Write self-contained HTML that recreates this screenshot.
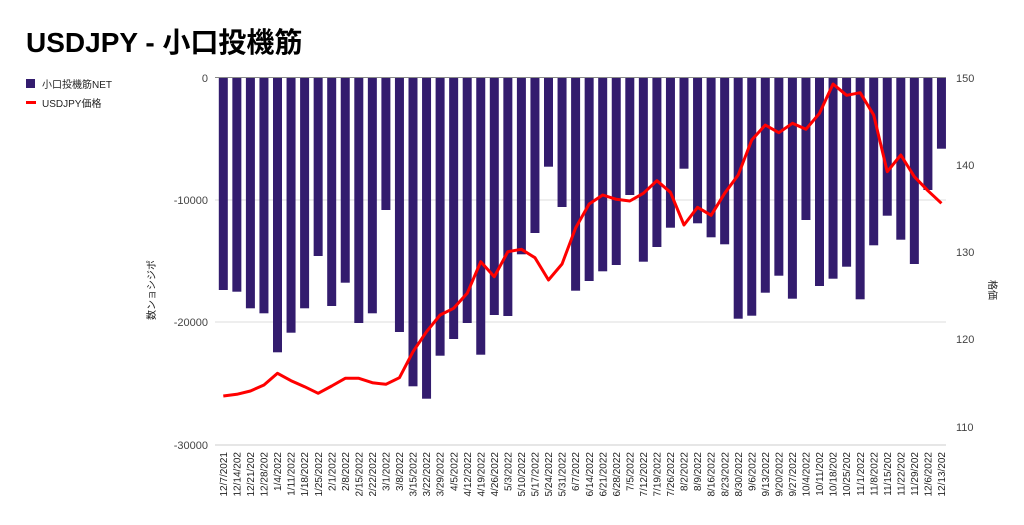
<!DOCTYPE html>
<html><head><meta charset="utf-8"><style>
html,body{margin:0;padding:0;background:#fff;}
svg{display:block;font-family:"Liberation Sans","Noto Sans CJK JP",sans-serif;}
</style></head><body>
<svg width="1024" height="525" viewBox="0 0 1024 525" xmlns="http://www.w3.org/2000/svg">
<text x="26" y="52" font-size="28" font-weight="bold" fill="#000">USDJPY - 小口投機筋</text>
<rect x="26" y="79" width="9" height="9" fill="#331c6e"/>
<text x="42" y="88" font-size="10" fill="#222">小口投機筋NET</text>
<rect x="26" y="101" width="10" height="3" fill="#ff0000"/>
<text x="42" y="107" font-size="10" fill="#222">USDJPY価格</text>
<g stroke-width="1">
<line x1="215" y1="200" x2="946" y2="200" stroke="#dddddd"/>
<line x1="215" y1="322" x2="946" y2="322" stroke="#dddddd"/>
<line x1="215" y1="445" x2="946" y2="445" stroke="#cccccc"/>
</g>
<g font-size="11" fill="#444" text-anchor="end">
<text x="208" y="82">0</text><text x="208" y="204">-10000</text><text x="208" y="326">-20000</text><text x="208" y="449">-30000</text>
</g>
<g font-size="11" fill="#444">
<text x="956" y="82">150</text><text x="956" y="169">140</text><text x="956" y="256">130</text><text x="956" y="343">120</text><text x="956" y="431">110</text>
</g>
<text transform="translate(155,290) rotate(-90)" font-size="10" fill="#222" text-anchor="middle">数ンョシジポ</text>
<text transform="translate(989,290) rotate(90)" font-size="10" fill="#222" text-anchor="middle">格価</text>
<g fill="#331c6e">
<rect x="218.8" y="78" width="9" height="212"/>
<rect x="232.35" y="78" width="9" height="213.7"/>
<rect x="245.9" y="78" width="9" height="230.3"/>
<rect x="259.45" y="78" width="9" height="235.3"/>
<rect x="273" y="78" width="9" height="274.3"/>
<rect x="286.55" y="78" width="9" height="254.7"/>
<rect x="300.1" y="78" width="9" height="230.3"/>
<rect x="313.65" y="78" width="9" height="178"/>
<rect x="327.2" y="78" width="9" height="228"/>
<rect x="340.75" y="78" width="9" height="204.7"/>
<rect x="354.3" y="78" width="9" height="245"/>
<rect x="367.85" y="78" width="9" height="235.3"/>
<rect x="381.4" y="78" width="9" height="132"/>
<rect x="394.95" y="78" width="9" height="254"/>
<rect x="408.5" y="78" width="9" height="308.3"/>
<rect x="422.05" y="78" width="9" height="320.7"/>
<rect x="435.6" y="78" width="9" height="277.7"/>
<rect x="449.15" y="78" width="9" height="261"/>
<rect x="462.7" y="78" width="9" height="245"/>
<rect x="476.25" y="78" width="9" height="276.7"/>
<rect x="489.8" y="78" width="9" height="237"/>
<rect x="503.35" y="78" width="9" height="238"/>
<rect x="516.9" y="78" width="9" height="176.3"/>
<rect x="530.45" y="78" width="9" height="155"/>
<rect x="544" y="78" width="9" height="88.7"/>
<rect x="557.55" y="78" width="9" height="129"/>
<rect x="571.1" y="78" width="9" height="212.7"/>
<rect x="584.65" y="78" width="9" height="203"/>
<rect x="598.2" y="78" width="9" height="193.3"/>
<rect x="611.75" y="78" width="9" height="187"/>
<rect x="625.3" y="78" width="9" height="117"/>
<rect x="638.85" y="78" width="9" height="183.7"/>
<rect x="652.4" y="78" width="9" height="169"/>
<rect x="665.95" y="78" width="9" height="149.7"/>
<rect x="679.5" y="78" width="9" height="90.7"/>
<rect x="693.05" y="78" width="9" height="145.3"/>
<rect x="706.6" y="78" width="9" height="159.3"/>
<rect x="720.15" y="78" width="9" height="166.3"/>
<rect x="733.7" y="78" width="9" height="240.7"/>
<rect x="747.25" y="78" width="9" height="237.7"/>
<rect x="760.8" y="78" width="9" height="214.7"/>
<rect x="774.35" y="78" width="9" height="197.7"/>
<rect x="787.9" y="78" width="9" height="220.7"/>
<rect x="801.45" y="78" width="9" height="142"/>
<rect x="815" y="78" width="9" height="208"/>
<rect x="828.55" y="78" width="9" height="200.7"/>
<rect x="842.1" y="78" width="9" height="188.7"/>
<rect x="855.65" y="78" width="9" height="221.3"/>
<rect x="869.2" y="78" width="9" height="167.3"/>
<rect x="882.75" y="78" width="9" height="137.7"/>
<rect x="896.3" y="78" width="9" height="161.7"/>
<rect x="909.85" y="78" width="9" height="186"/>
<rect x="923.4" y="78" width="9" height="112"/>
<rect x="936.95" y="78" width="9" height="70.7"/>
</g>
<line x1="215" y1="77.5" x2="946" y2="77.5" stroke="#888" stroke-width="1"/>
<polyline fill="none" stroke="#ff0000" stroke-width="3" stroke-linejoin="round" points="223.3,396 236.85,394.3 250.4,391 263.95,385 277.5,373.3 291.05,380.7 304.6,386.7 318.15,393.3 331.7,386 345.25,378.3 358.8,378.3 372.35,382.7 385.9,384.3 399.45,377.7 413,351.7 426.55,331.7 440.1,315 453.65,308.3 467.2,293.3 480.75,261.7 494.3,276.7 507.85,251.7 521.4,249.3 534.95,257.7 548.5,280 562.05,264 575.6,228 589.15,204 602.7,195 616.25,199.3 629.8,201 643.35,193.3 656.9,180.7 670.45,192.3 684,225 697.55,207.3 711.1,215.3 724.65,193.3 738.2,175 751.75,140 765.3,125 778.85,132.7 792.4,123.3 805.95,129.3 819.5,113.3 833.05,84 846.6,95.3 860.15,92.7 873.7,115 887.25,171.7 900.8,155 914.35,176.7 927.9,190.7 941.45,203.3"/>
<g font-size="10" fill="#222" text-anchor="end">
<text transform="translate(227,452) rotate(-90)">12/7/2021</text>
<text transform="translate(240.5,452) rotate(-90)">12/14/202</text>
<text transform="translate(254,452) rotate(-90)">12/21/202</text>
<text transform="translate(267.6,452) rotate(-90)">12/28/202</text>
<text transform="translate(281.1,452) rotate(-90)">1/4/2022</text>
<text transform="translate(294.7,452) rotate(-90)">1/11/2022</text>
<text transform="translate(308.2,452) rotate(-90)">1/18/2022</text>
<text transform="translate(321.8,452) rotate(-90)">1/25/2022</text>
<text transform="translate(335.3,452) rotate(-90)">2/1/2022</text>
<text transform="translate(348.9,452) rotate(-90)">2/8/2022</text>
<text transform="translate(362.4,452) rotate(-90)">2/15/2022</text>
<text transform="translate(376,452) rotate(-90)">2/22/2022</text>
<text transform="translate(389.5,452) rotate(-90)">3/1/2022</text>
<text transform="translate(403.1,452) rotate(-90)">3/8/2022</text>
<text transform="translate(416.6,452) rotate(-90)">3/15/2022</text>
<text transform="translate(430.2,452) rotate(-90)">3/22/2022</text>
<text transform="translate(443.7,452) rotate(-90)">3/29/2022</text>
<text transform="translate(457.3,452) rotate(-90)">4/5/2022</text>
<text transform="translate(470.8,452) rotate(-90)">4/12/2022</text>
<text transform="translate(484.4,452) rotate(-90)">4/19/2022</text>
<text transform="translate(497.9,452) rotate(-90)">4/26/2022</text>
<text transform="translate(511.5,452) rotate(-90)">5/3/2022</text>
<text transform="translate(525,452) rotate(-90)">5/10/2022</text>
<text transform="translate(538.6,452) rotate(-90)">5/17/2022</text>
<text transform="translate(552.1,452) rotate(-90)">5/24/2022</text>
<text transform="translate(565.7,452) rotate(-90)">5/31/2022</text>
<text transform="translate(579.2,452) rotate(-90)">6/7/2022</text>
<text transform="translate(592.8,452) rotate(-90)">6/14/2022</text>
<text transform="translate(606.3,452) rotate(-90)">6/21/2022</text>
<text transform="translate(619.9,452) rotate(-90)">6/28/2022</text>
<text transform="translate(633.4,452) rotate(-90)">7/5/2022</text>
<text transform="translate(647,452) rotate(-90)">7/12/2022</text>
<text transform="translate(660.5,452) rotate(-90)">7/19/2022</text>
<text transform="translate(674.1,452) rotate(-90)">7/26/2022</text>
<text transform="translate(687.6,452) rotate(-90)">8/2/2022</text>
<text transform="translate(701.2,452) rotate(-90)">8/9/2022</text>
<text transform="translate(714.7,452) rotate(-90)">8/16/2022</text>
<text transform="translate(728.3,452) rotate(-90)">8/23/2022</text>
<text transform="translate(741.8,452) rotate(-90)">8/30/2022</text>
<text transform="translate(755.4,452) rotate(-90)">9/6/2022</text>
<text transform="translate(768.9,452) rotate(-90)">9/13/2022</text>
<text transform="translate(782.5,452) rotate(-90)">9/20/2022</text>
<text transform="translate(796,452) rotate(-90)">9/27/2022</text>
<text transform="translate(809.6,452) rotate(-90)">10/4/2022</text>
<text transform="translate(823.1,452) rotate(-90)">10/11/202</text>
<text transform="translate(836.7,452) rotate(-90)">10/18/202</text>
<text transform="translate(850.2,452) rotate(-90)">10/25/202</text>
<text transform="translate(863.8,452) rotate(-90)">11/1/2022</text>
<text transform="translate(877.3,452) rotate(-90)">11/8/2022</text>
<text transform="translate(890.9,452) rotate(-90)">11/15/202</text>
<text transform="translate(904.4,452) rotate(-90)">11/22/202</text>
<text transform="translate(918,452) rotate(-90)">11/29/202</text>
<text transform="translate(931.5,452) rotate(-90)">12/6/2022</text>
<text transform="translate(945.1,452) rotate(-90)">12/13/202</text>
</g>
</svg>
</body></html>
